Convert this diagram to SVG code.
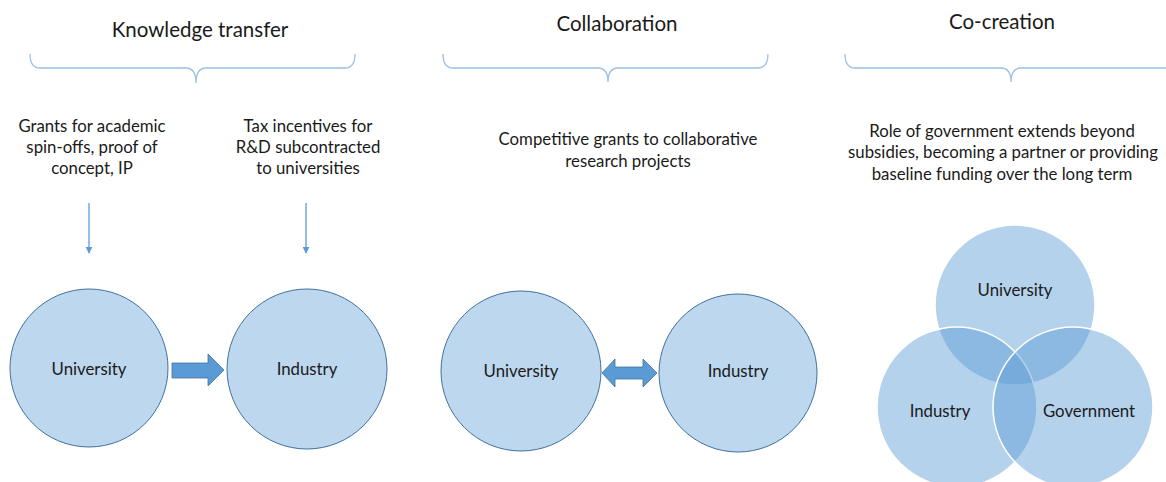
<svg xmlns="http://www.w3.org/2000/svg" width="1166" height="482" viewBox="0 0 1166 482">
<style>
text{font-family:Lato,"Open Sans","Liberation Sans",sans-serif;fill:#1a1a1a;text-anchor:middle}
.title{font-size:20.5px}
.body{font-size:16.8px}
.brace{fill:none;stroke:#9cc0e4;stroke-width:1.3}
.node{fill:#bdd7ee;stroke:#41719c;stroke-width:1}
.venn{fill:#5b9bd5;fill-opacity:0.45;stroke:#ffffff;stroke-width:1.5}
.thin{stroke:#5b9bd5;stroke-width:1.3;fill:none}
.block{fill:#5b9bd5;stroke:#41719c;stroke-width:0.8}
</style>
<defs>
<marker id="ah" viewBox="0 0 10 10" refX="9" refY="5" markerWidth="7" markerHeight="7" orient="auto" markerUnits="userSpaceOnUse">
<path d="M0,0 L10,5 L0,10 z" fill="#5b9bd5"/>
</marker>
</defs>

<g id="headers">
<text class="title" x="200" y="37">Knowledge transfer</text>
<text class="title" x="617" y="31">Collaboration</text>
<text class="title" x="1002" y="29">Co-creation</text>
<path class="brace" d="M30,54 Q30,68 40,68 L186,68 Q196,68 196,83 Q196,68 206,68 L345,68 Q355,68 355,54"/>
<path class="brace" d="M443,54 Q443,68 453,68 L598,68 Q608,68 608,82 Q608,68 618,68 L758,68 Q768,68 768,54"/>
<path class="brace" d="M845,54 Q845,68 855,68 L1001,68 Q1011,68 1011,82 Q1011,68 1021,68 L1167,68 Q1177,68 1177,54"/>
</g>

<g id="descriptions">
<text class="body" x="92" y="132">Grants for academic</text>
<text class="body" x="92" y="153">spin-offs, proof of</text>
<text class="body" x="92" y="174">concept, IP</text>
<text class="body" x="308" y="132">Tax incentives for</text>
<text class="body" x="308" y="153">R&amp;D subcontracted</text>
<text class="body" x="308" y="174">to universities</text>
<text class="body" x="628" y="145">Competitive grants to collaborative</text>
<text class="body" x="628" y="167">research projects</text>
<text class="body" x="1002" y="137">Role of government extends beyond</text>
<text class="body" x="1003" y="158">subsidies, becoming a partner or providing</text>
<text class="body" x="1002" y="180">baseline funding over the long term</text>
</g>

<g id="kt-university">
<circle class="node" cx="89" cy="368" r="79"/>
<text class="body" x="89" y="375">University</text>
</g>
<g id="kt-industry">
<circle class="node" cx="307" cy="369" r="80"/>
<text class="body" x="307" y="375">Industry</text>
</g>
<g id="co-university">
<circle class="node" cx="521" cy="371" r="80"/>
<text class="body" x="521" y="377">University</text>
</g>
<g id="co-industry">
<circle class="node" cx="738" cy="373" r="79"/>
<text class="body" x="738" y="377">Industry</text>
</g>

<g id="venn">
<g id="venn-university"><circle class="venn" cx="1015" cy="305" r="80"/></g>
<g id="venn-industry"><circle class="venn" cx="957" cy="407" r="80"/></g>
<g id="venn-government"><circle class="venn" cx="1073" cy="407" r="80"/></g>
<text class="body" x="1015" y="296">University</text>
<text class="body" x="940" y="417">Industry</text>
<text class="body" x="1089" y="417">Government</text>
</g>

<g id="connectors">
<line class="thin" x1="89" y1="203" x2="89" y2="253" marker-end="url(#ah)"/>
<line class="thin" x1="306" y1="203" x2="306" y2="253" marker-end="url(#ah)"/>
<polygon class="block" points="172,363 208,363 208,354 224,370 208,386 208,378 172,378"/>
<polygon class="block" points="602,373 615,359 615,367 643,367 643,359 657,373 643,387 643,379 615,379 615,387"/>
</g>
</svg>
